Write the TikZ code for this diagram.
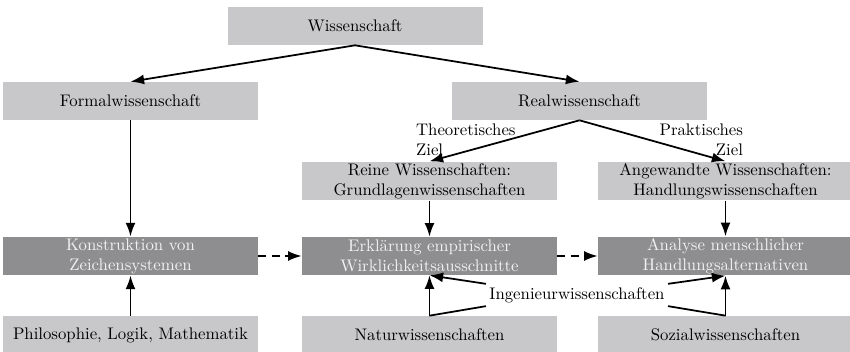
\documentclass[tikz,border=0pt]{standalone}
\usetikzlibrary{arrows.meta}
\definecolor{boxlight}{HTML}{C8C8CA}
\definecolor{boxdark}{HTML}{8E8E90}
\definecolor{textlight}{HTML}{F2F2F2}
\begin{document}
\begin{tikzpicture}[
  every node/.style={font=\fontsize{10.5}{12.6}\selectfont},
  lightbox/.style={fill=boxlight,minimum width=5.61cm,minimum height=0.836cm,align=center,inner sep=1pt},
  darkbox/.style={lightbox,fill=boxdark,text=textlight},
  arr/.style={-{Latex[length=3mm,width=2.2mm]},line width=1.1pt},
  dasharr/.style={arr,dash pattern=on 5pt off 3.5pt}]
\useasboundingbox (0,0) rectangle (18.7,7.744);
%\draw[help lines, color=gray!30, dashed] (0,0) grid (18.7,7.7);
% top levels
\node[lightbox] (wiss) at (7.81,7.172) {Wissenschaft};
\node[lightbox] (formal) at (2.871,5.522) {Formalwissenschaft};
\node[lightbox] (real) at (12.749,5.522) {Realwissenschaft};
\node[lightbox] (rein) at (9.449,3.762) {Reine Wissenschaften:\\Grundlagenwissenschaften};
\node[lightbox] (angew) at (15.961,3.762) {Angewandte Wissenschaften:\\Handlungswissenschaften};
% dark row
\node[darkbox] (konstr) at (2.871,2.112) {Konstruktion von\\Zeichensystemen};
\node[darkbox] (erkl) at (9.449,2.112) {Erklärung empirischer\\Wirklichkeitsausschnitte};
\node[darkbox] (analyse) at (15.961,2.112) {Analyse menschlicher\\Handlungsalternativen};
% bottom row
\node[lightbox] (philo) at (2.871,0.374) {Philosophie, Logik, Mathematik};
\node[lightbox] (natur) at (9.449,0.374) {Naturwissenschaften};
\node[lightbox] (sozial) at (15.961,0.374) {Sozialwissenschaften};
\node[inner sep=2pt] (ing) at (12.694,1.254) {Ingenieurwissenschaften};
% labels
\node[align=left,anchor=west] (theo) at (9.03,4.664) {Theoretisches\\Ziel};
\node[align=right,anchor=east] (prakt) at (16.47,4.664) {Praktisches\\Ziel};
% arrows
\draw[arr] (wiss.south) -- (formal.north);
\draw[arr] (wiss.south) -- (real.north);
\draw[arr] (real.south) -- (rein.north);
\draw[arr] (real.south) -- (angew.north);
\draw[arr] (formal.south) -- (konstr.north);
\draw[arr] (rein.south) -- (erkl.north);
\draw[arr] (angew.south) -- (analyse.north);
\draw[arr] (philo.north) -- (konstr.south);
\draw[arr] (natur.north) -- (erkl.south);
\draw[arr] (sozial.north) -- (analyse.south);
\draw[dasharr] (konstr.east) -- (erkl.west);
\draw[dasharr] (erkl.east) -- (analyse.west);
% Ingenieurwissenschaften
\draw[line width=1.1pt] (natur.north) -- (ing.south west);
\draw[line width=1.1pt] (sozial.north) -- (ing.south east);
\draw[arr] (ing.north west) -- (erkl.south);
\draw[arr] (ing.north east) -- (analyse.south);
\end{tikzpicture}
\end{document}
